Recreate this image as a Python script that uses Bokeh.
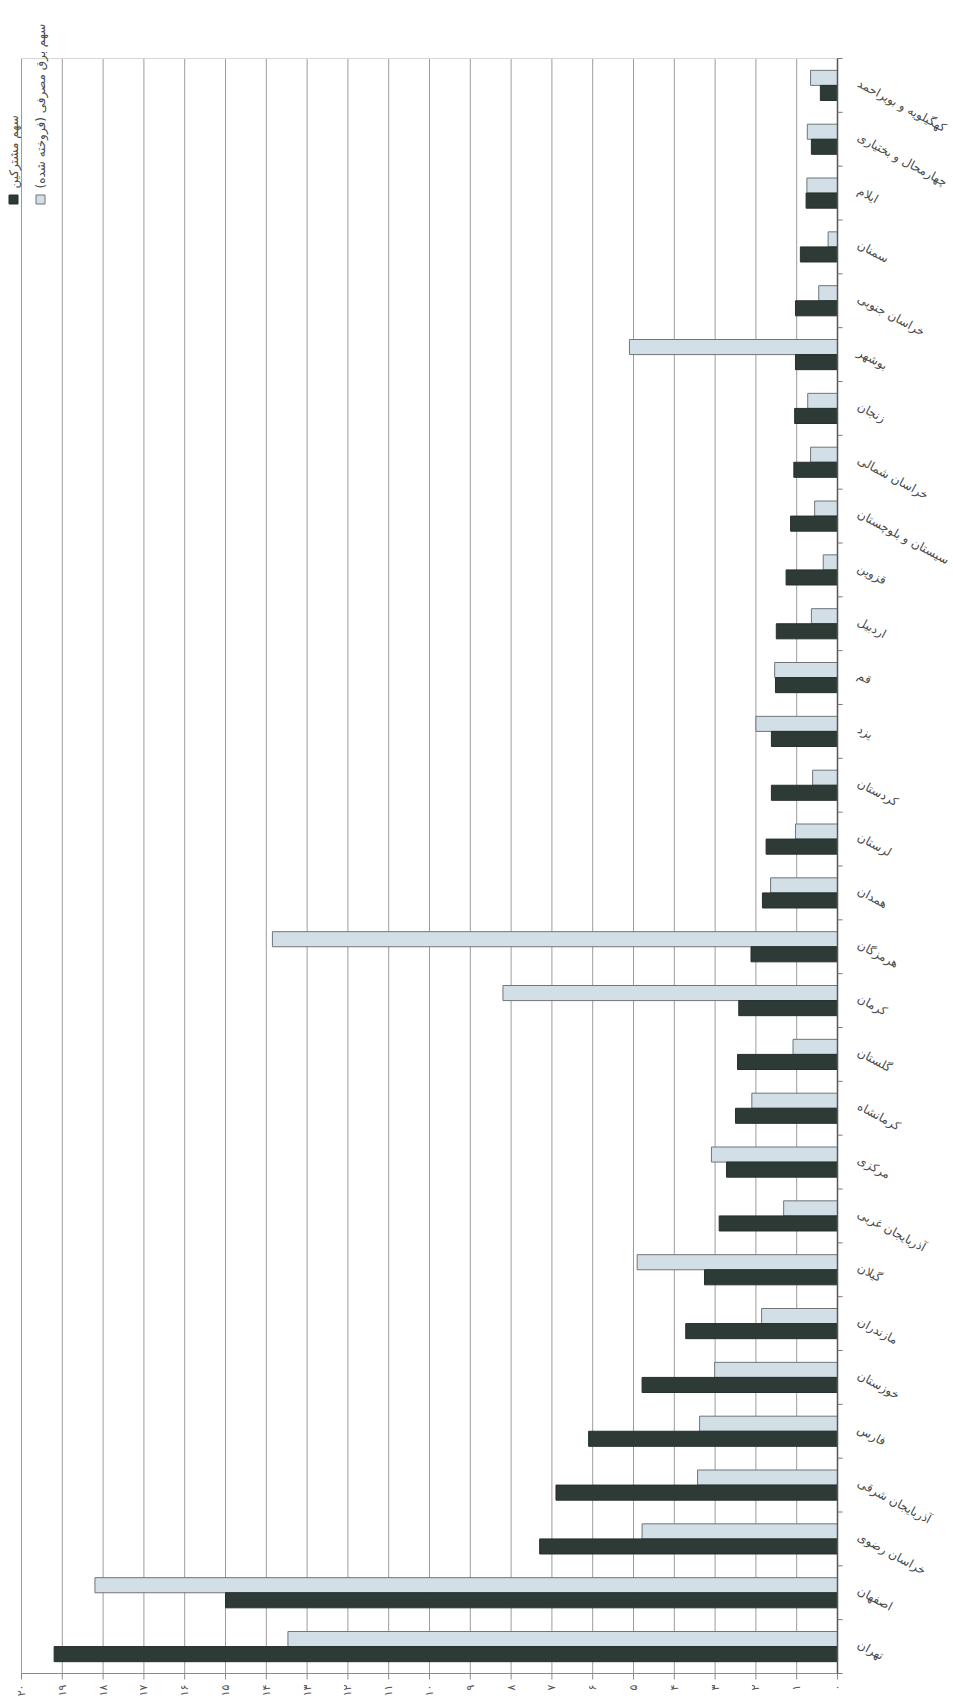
import math
from bokeh.plotting import figure
from bokeh.models import Range1d, ColumnDataSource
from bokeh.core.properties import value
from bokeh.embed import file_html
from bokeh.resources import INLINE

# Provinces, listed from the first category (bottom) to the last (top)
provinces = [
    "تهران", "اصفهان", "خراسان رضوی", "آذربایجان شرقی", "فارس",
    "خوزستان", "مازندران", "گیلان", "آذربایجان غربی", "مرکزی",
    "کرمانشاه", "گلستان", "کرمان", "هرمزگان", "همدان",
    "لرستان", "کردستان", "یزد", "قم", "اردبیل",
    "قزوین", "سیستان و بلوچستان", "خراسان شمالی", "زنجان", "بوشهر",
    "خراسان جنوبی", "سمنان", "ایلام", "چهارمحال و بختیاری", "کهگیلویه و بویراحمد",
]

# Share of subscribers (percent)
subscribers_share = [
    19.2, 15.0, 7.3, 6.9, 6.1,
    4.79, 3.72, 3.26, 2.9, 2.72,
    2.5, 2.45, 2.42, 2.12, 1.84,
    1.75, 1.62, 1.62, 1.52, 1.5,
    1.26, 1.15, 1.07, 1.05, 1.03,
    1.03, 0.91, 0.77, 0.64, 0.42,
]

# Share of electricity consumed (sold), percent
consumption_share = [
    13.47, 18.2, 4.79, 3.43, 3.38,
    3.01, 1.86, 4.91, 1.32, 3.09,
    2.1, 1.09, 8.2, 13.85, 1.64,
    1.03, 0.61, 2.0, 1.54, 0.64,
    0.35, 0.56, 0.66, 0.73, 5.1,
    0.46, 0.23, 0.75, 0.74, 0.66,
]

value_ticks = list(range(0, 21))
legend_labels = ["سهم مشترکین", "سهم برق مصرفی (فروخته شده)"]

persian_digits = "۰۱۲۳۴۵۶۷۸۹"


def to_persian(n):
    return "".join(persian_digits[int(c)] for c in str(n))


n = len(provinces)
centers = [i + 0.5 for i in range(n)]
bar_h = 0.28
vmax = value_ticks[-1]

dark_color = "#2e3a35"
light_color = "#d2dfe7"
dark_edge = "#26302c"
light_edge = "#6f7579"
text_color = "#4a4a4a"
font = value("DejaVu Sans")

# Canvas geometry: values run right-to-left, provinces bottom-to-top.
W, H = 953, 1708
left_px, right_px, top_px, bottom_px = 21, 837, 58, 1673
ux = (right_px - left_px) / vmax          # pixels per percent
uy = (bottom_px - top_px) / n             # pixels per province

p = figure(width=W, height=H, output_backend="svg", toolbar_location=None,
           x_range=Range1d(vmax + left_px / ux, -(W - right_px) / ux),
           y_range=Range1d(-(H - bottom_px) / uy, n + top_px / uy),
           x_axis_location=None, y_axis_location=None,
           min_border=0, min_border_left=0, min_border_right=0,
           min_border_top=0, min_border_bottom=0,
           background_fill_color="white", border_fill_color="white")
p.outline_line_color = None
p.grid.visible = False

# vertical grid at every percent
p.segment(x0=value_ticks, y0=[0] * len(value_ticks),
          x1=value_ticks, y1=[n] * len(value_ticks),
          line_color="#9c9c9c", line_width=1)
# faint frame top
p.segment(x0=[vmax], y0=[n], x1=[0], y1=[n], line_color="#d6d6d6", line_width=1)

src = ColumnDataSource(dict(
    y_dark=[c - bar_h / 2 for c in centers],
    y_light=[c + bar_h / 2 for c in centers],
    subs=subscribers_share,
    cons=consumption_share,
    name=provinces,
    y=centers,
    zero=[0] * n,
))

p.hbar(y="y_light", left=0, right="cons", height=bar_h, source=src,
       fill_color=light_color, line_color=light_edge, line_width=1)
p.hbar(y="y_dark", left=0, right="subs", height=bar_h, source=src,
       fill_color=dark_color, line_color=dark_edge, line_width=1)

# value axis along the bottom
p.segment(x0=[vmax], y0=[0], x1=[0], y1=[0], line_color="#8a8a8a", line_width=1)
p.ray(x=value_ticks, y=[0] * len(value_ticks), length=6, length_units="screen",
      angle=-math.pi / 2, line_color="#8a8a8a", line_width=1)
p.text(x=value_ticks, y=[0] * len(value_ticks),
       text=[to_persian(t) for t in value_ticks],
       angle=math.pi / 2, text_align="right", text_baseline="middle",
       y_offset=11, text_font=font, text_font_size="11px",
       text_color="#555555")

# province axis on the right, at zero
p.segment(x0=[0], y0=[0], x1=[0], y1=[n], line_color="#555555", line_width=1.5)
bounds = list(range(n + 1))
p.ray(x=[0] * len(bounds), y=bounds, length=5, length_units="screen",
      angle=0, line_color="#777777", line_width=1)
p.text(x="zero", y="y", text="name", source=src,
       angle=-0.49, text_align="left", text_baseline="middle",
       x_offset=21, y_offset=-3, text_font=font, text_font_size="12px",
       text_color=text_color)

# legend in the top-left corner, turned on its side
leg_x = [vmax + (left_px - 13) / ux, vmax + (left_px - 40) / ux]
leg_y = n - (199 - top_px) / uy
p.rect(x=leg_x, y=[leg_y] * 2, width=9, height=9,
       width_units="screen", height_units="screen",
       fill_color=[dark_color, light_color], line_color=[dark_edge, light_edge])
p.text(x=leg_x, y=[leg_y] * 2, text=legend_labels,
       angle=math.pi / 2, text_align="left", text_baseline="middle",
       y_offset=-11, text_font=font, text_font_size="12px",
       text_color=text_color)

open("out.html", "w").write(file_html(p, INLINE))
